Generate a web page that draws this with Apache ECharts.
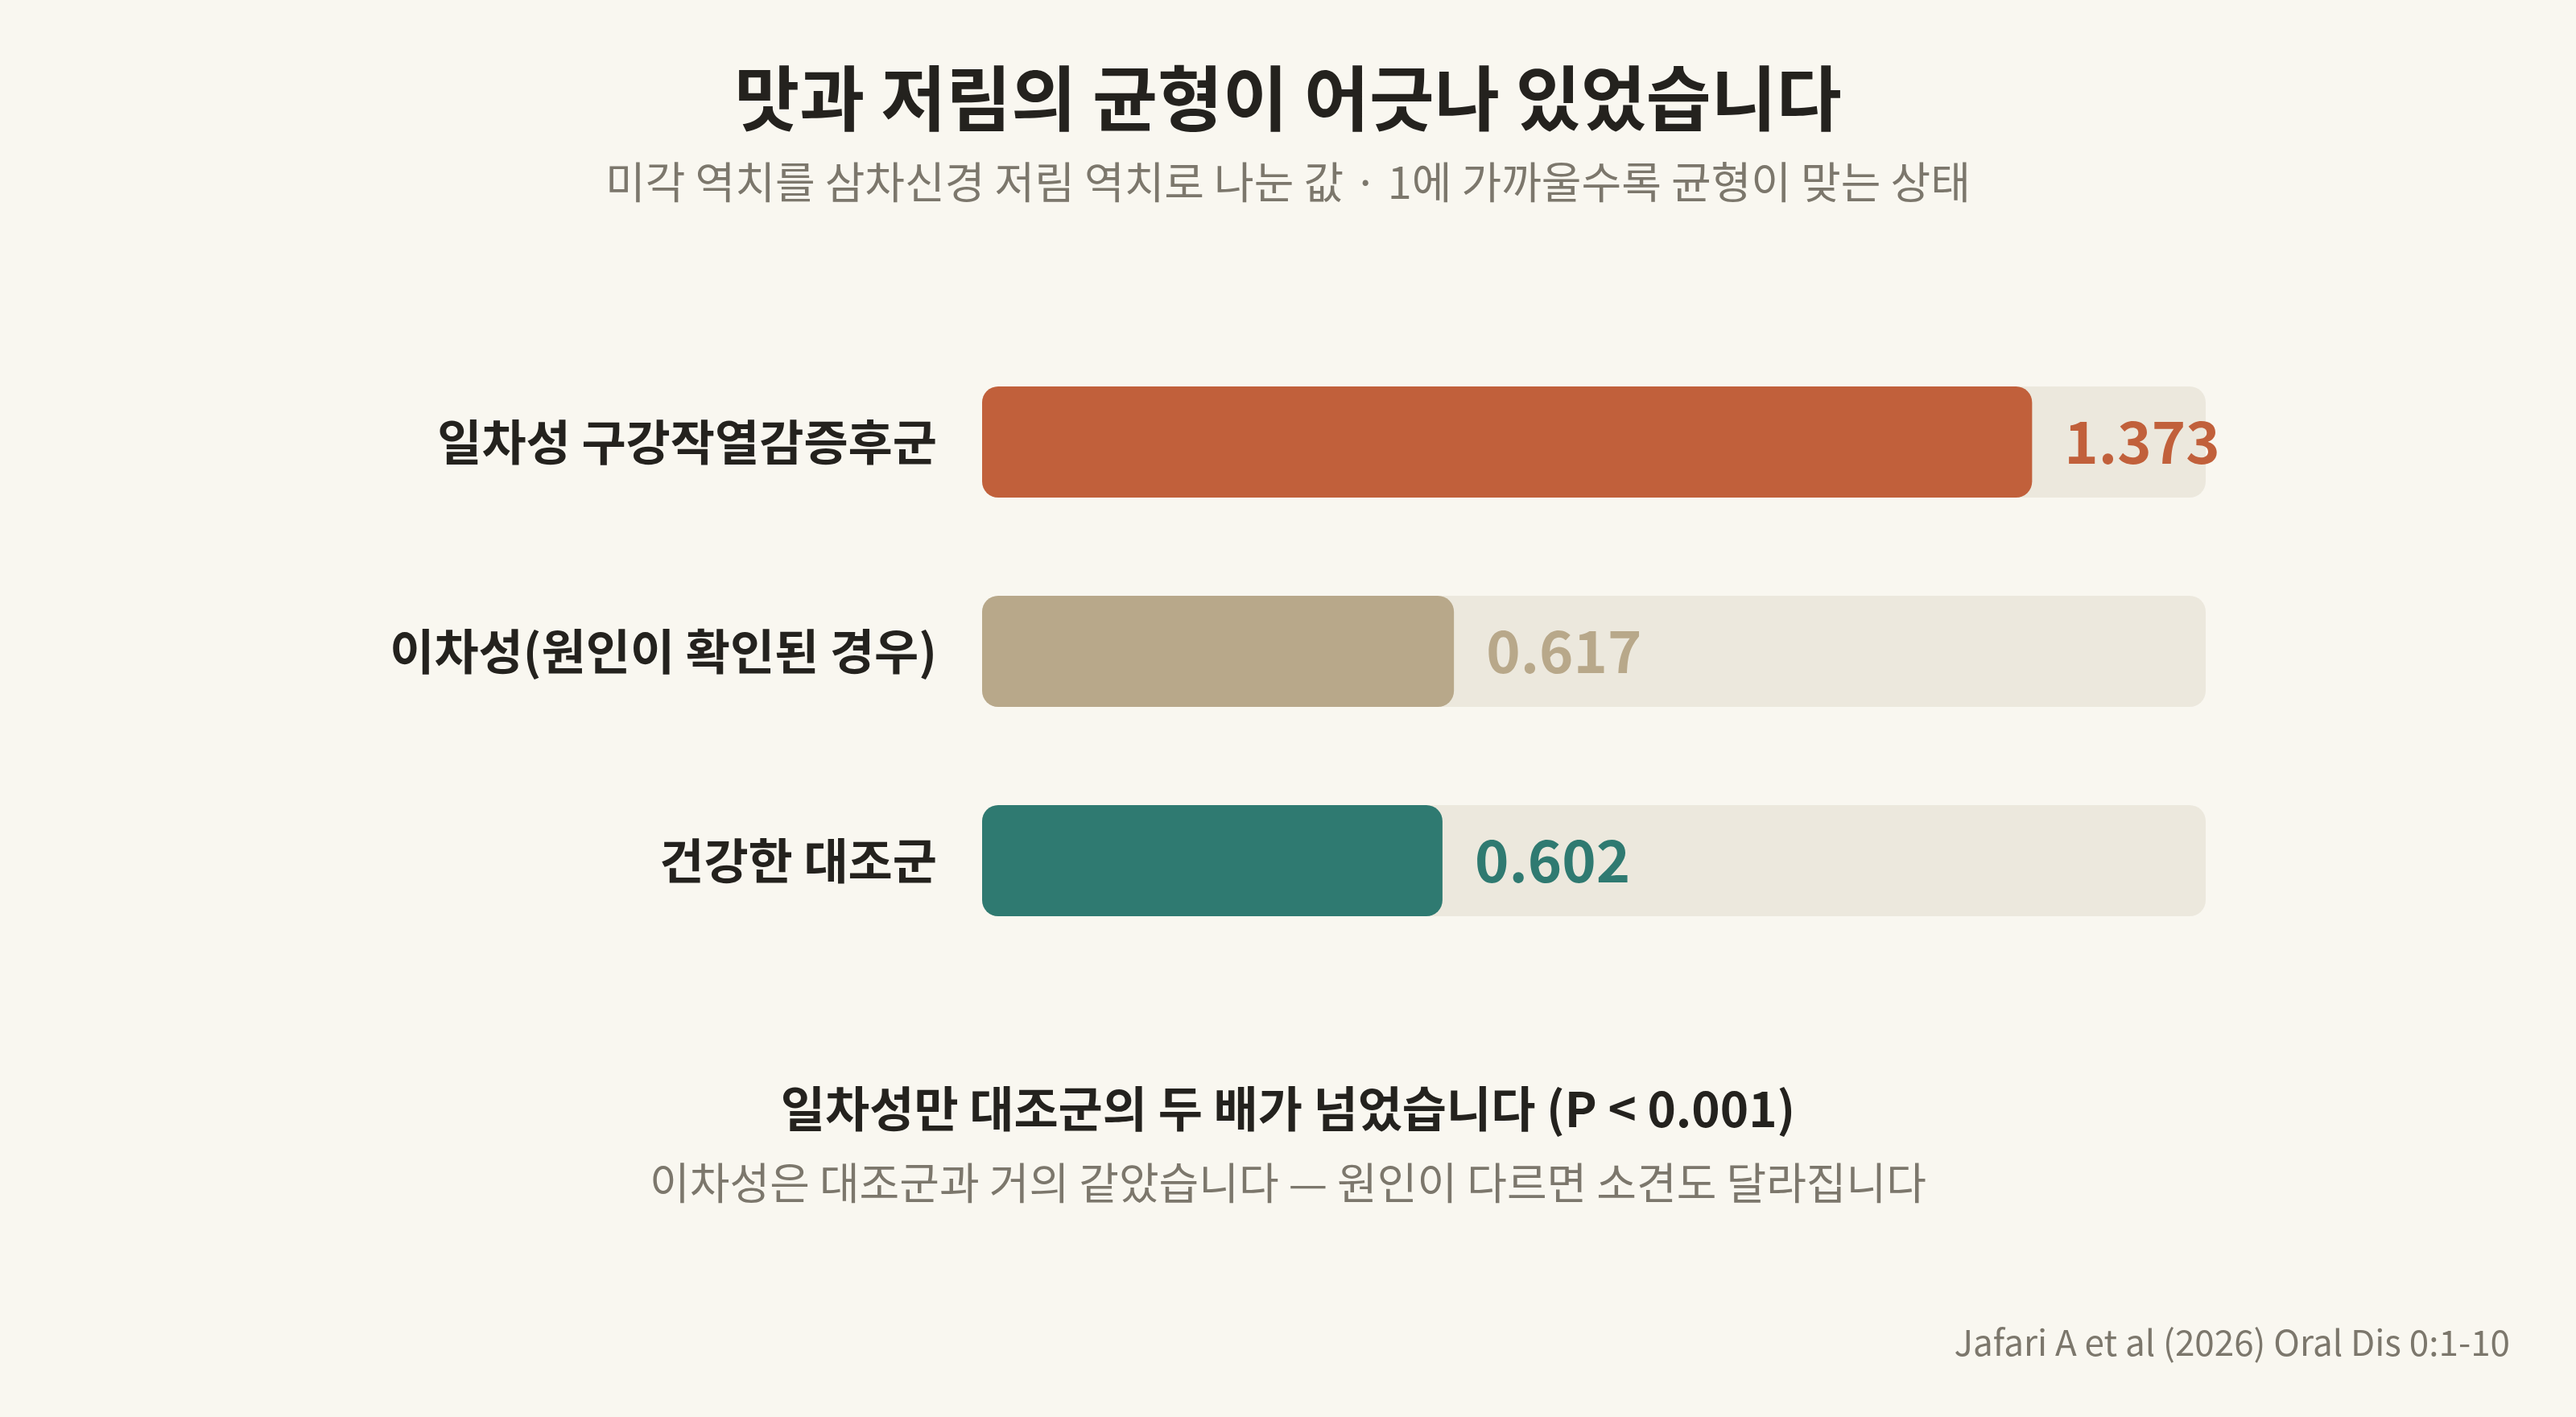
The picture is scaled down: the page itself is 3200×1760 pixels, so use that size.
<!DOCTYPE html>
<html>
<head>
<meta charset="utf-8">
<script src="https://cdn.jsdelivr.net/npm/echarts@6/dist/echarts.min.js"></script>
<style>
html,body{margin:0;padding:0;background:#F9F7F0;}
#chart{width:3200px;height:1760px;}
</style>
</head>
<body>
<div id="chart"></div>
<script>
const categories = ['일차성 구강작열감증후군', '이차성(원인이 확인된 경우)', '건강한 대조군'];
const values = [1.373, 0.617, 0.602];
const barColors = ['#C1603B', '#B8A88A', '#2F7A71'];
const axisMax = 1.6;
const trackValues = [1.6, 1.6, 1.6];

const titleText = '맛과 저림의 균형이 어긋나 있었습니다';
const subtitleText = '미각 역치를 삼차신경 저림 역치로 나눈 값 · 1에 가까울수록 균형이 맞는 상태';
const noteBold = '일차성만 대조군의 두 배가 넘었습니다 (P < 0.001)';
const noteLight = '이차성은 대조군과 거의 같았습니다 — 원인이 다르면 소견도 달라집니다';
const sourceText = 'Jafari A et al (2026) Oral Dis 0:1-10';

const FONT = '"Noto Sans CJK KR", "Noto Sans", sans-serif';
const chart = echarts.init(document.getElementById('chart'));

chart.setOption({
  backgroundColor: '#F9F7F0',
  animation: false,
  grid: { left: 1220, right: 460, top: 419, height: 780, containLabel: false },
  xAxis: { type: 'value', min: 0, max: axisMax, show: false },
  yAxis: {
    type: 'category',
    data: categories,
    inverse: true,
    axisLine: { show: false },
    axisTick: { show: false },
    splitLine: { show: false },
    axisLabel: {
      margin: 56,
      fontFamily: FONT,
      fontSize: 60,
      fontWeight: 'bold',
      color: '#24221E'
    }
  },
  series: [
    {
      type: 'bar',
      data: trackValues,
      barWidth: 138,
      barGap: '-100%',
      silent: true,
      itemStyle: { color: '#ECE8DD', borderRadius: 20 },
      z: 1
    },
    {
      type: 'bar',
      data: values.map((v, i) => ({ value: v, itemStyle: { color: barColors[i] }, label: { color: barColors[i] } })),
      barWidth: 138,
      itemStyle: { borderRadius: 20 },
      label: {
        show: true,
        position: 'right',
        distance: 40,
        fontFamily: FONT,
        fontSize: 72,
        fontWeight: 'bold',
        formatter: p => p.value.toFixed(3)
      },
      z: 2
    }
  ],
  graphic: [
    { type: 'text', left: 'center', top: 78, style: { text: titleText, font: 'bold 88px ' + FONT, fill: '#24221E' } },
    { type: 'text', left: 'center', top: 199, style: { text: subtitleText, font: '54px ' + FONT, fill: '#7C776C' } },
    { type: 'text', left: 'center', top: 1347, style: { text: noteBold, font: 'bold 60px ' + FONT, fill: '#24221E' } },
    { type: 'text', left: 'center', top: 1442, style: { text: noteLight, font: '54px ' + FONT, fill: '#7C776C' } },
    { type: 'text', right: 82, top: 1645, style: { text: sourceText, font: '44px ' + FONT, fill: '#7C776C' } }
  ]
});
</script>
</body>
</html>
